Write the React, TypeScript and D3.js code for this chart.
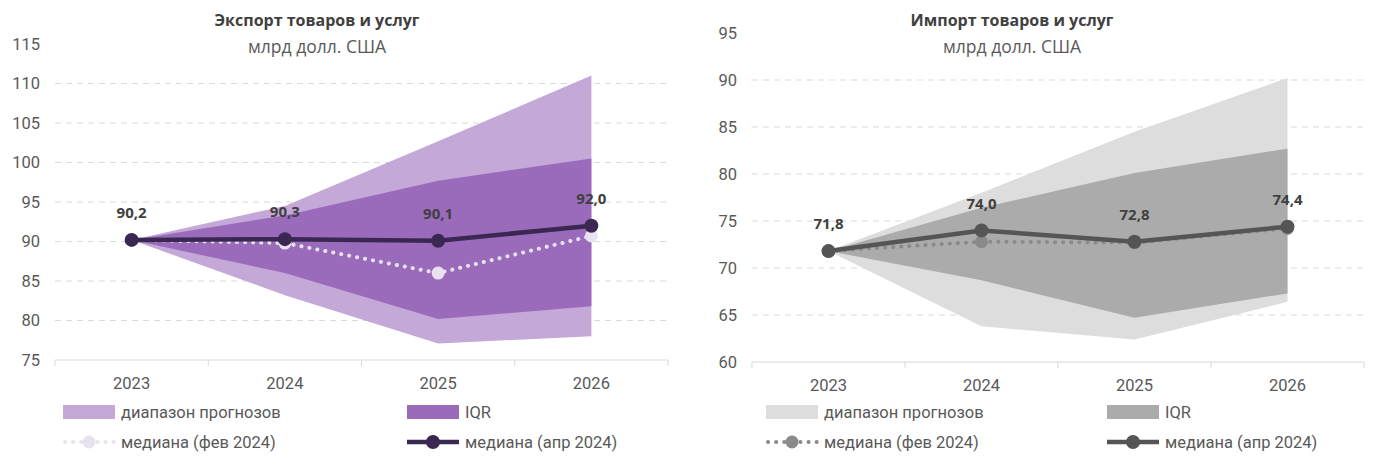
import React from "react";
import * as d3 from "d3";

const years = ["2023", "2024", "2025", "2026"];

// Export (left)
const expRangeLow = [90.2, 83.2, 77.1, 78.0];
const expRangeHigh = [90.2, 94.5, 102.7, 111.0];
const expIqrLow = [90.2, 86.0, 80.2, 81.8];
const expIqrHigh = [90.2, 93.3, 97.7, 100.5];
const expMedApr = [90.2, 90.3, 90.1, 92.0];
const expMedFeb = [90.2, 89.8, 86.0, 90.7];
const expTicks = [75, 80, 85, 90, 95, 100, 105, 110, 115];

// Import (right)
const impRangeLow = [71.8, 63.8, 62.4, 66.4];
const impRangeHigh = [71.8, 78.0, 84.5, 90.2];
const impIqrLow = [71.8, 68.7, 64.7, 67.3];
const impIqrHigh = [71.8, 76.4, 80.1, 82.7];
const impMedApr = [71.8, 74.0, 72.8, 74.4];
const impMedFeb = [71.8, 72.8, 72.7, 74.2];
const impTicks = [60, 65, 70, 75, 80, 85, 90, 95];

const legendLabels = ["диапазон прогнозов", "IQR", "медиана (фев 2024)", "медиана (апр 2024)"];

const FONT = "Roboto, 'Liberation Sans', sans-serif";
const TITLE_FONT = "'Open Sans', 'Noto Sans', sans-serif";

type PanelProps = {
  title: string;
  subtitle: string;
  x0: number;
  x1: number;
  yBottom: number;
  yTop: number;
  ticks: number[];
  rangeLow: number[];
  rangeHigh: number[];
  iqrLow: number[];
  iqrHigh: number[];
  medApr: number[];
  medFeb: number[];
  cRange: string;
  cIqr: string;
  cApr: string;
  cFeb: string;
  titleX: number;
  legendX: number;
  legendX2: number;
};

function fmt(v: number) {
  return v.toFixed(1).replace(".", ",");
}

function Panel(p: PanelProps) {
  const x = d3.scaleBand<string>().domain(years).range([p.x0, p.x1]);
  const cx = (i: number) => (x(years[i]) as number) + x.bandwidth() / 2;
  const y = d3
    .scaleLinear()
    .domain([p.ticks[0], p.ticks[p.ticks.length - 1]])
    .range([p.yBottom, p.yTop]);
  const idx = years.map((_, i) => i);
  const area = (lo: number[], hi: number[]) =>
    d3
      .area<number>()
      .x((i) => cx(i))
      .y0((i) => y(lo[i]))
      .y1((i) => y(hi[i]))(idx) as string;
  const line = (v: number[]) =>
    d3
      .line<number>()
      .x((i) => cx(i))
      .y((i) => y(v[i]))(idx) as string;
  const boundaries = [...years.map((yr) => x(yr) as number), p.x1];
  const ly1 = 412;
  const ly2 = 442;
  return (
    <g>
      {p.ticks.slice(1, -1).map((t) => (
        <line
          key={t}
          x1={p.x0}
          x2={p.x1}
          y1={y(t)}
          y2={y(t)}
          stroke="#d9d9d9"
          strokeWidth={1}
          strokeDasharray="6,5"
        />
      ))}
      {p.ticks.map((t) => (
        <text
          key={t}
          x={p.x0 - 15}
          y={y(t)}
          dy="0.35em"
          textAnchor="end"
          fontFamily={FONT}
          fontSize={16.5}
          fill="#595959"
        >
          {t}
        </text>
      ))}
      <path d={area(p.rangeLow, p.rangeHigh)} fill={p.cRange} />
      <path d={area(p.iqrLow, p.iqrHigh)} fill={p.cIqr} />
      <line x1={p.x0} x2={p.x1} y1={p.yBottom} y2={p.yBottom} stroke="#d9d9d9" strokeWidth={1} />
      {boundaries.map((b, i) => (
        <line key={i} x1={b} x2={b} y1={p.yBottom} y2={p.yBottom + 6} stroke="#d9d9d9" />
      ))}
      {years.map((yr, i) => (
        <text
          key={yr}
          x={cx(i)}
          y={p.yBottom + 23}
          dy="0.35em"
          textAnchor="middle"
          fontFamily={FONT}
          fontSize={16.5}
          fill="#595959"
        >
          {yr}
        </text>
      ))}
      <path
        d={line(p.medFeb)}
        fill="none"
        stroke={p.cFeb}
        strokeWidth={4}
        strokeDasharray="0.1,8"
        strokeLinecap="round"
      />
      {p.medFeb.map((v, i) => (
        <circle key={i} cx={cx(i)} cy={y(v)} r={6.5} fill={p.cFeb} />
      ))}
      <path d={line(p.medApr)} fill="none" stroke={p.cApr} strokeWidth={4.5} />
      {p.medApr.map((v, i) => (
        <circle key={i} cx={cx(i)} cy={y(v)} r={7} fill={p.cApr} />
      ))}
      {p.medApr.map((v, i) => (
        <text
          key={i}
          x={cx(i)}
          y={y(v) - 27}
          dy="0.35em"
          textAnchor="middle"
          fontFamily={TITLE_FONT}
          fontWeight={700}
          fontSize={15}
          fill="#404040"
        >
          {fmt(v)}
        </text>
      ))}
      <text
        x={p.titleX}
        y={20}
        dy="0.35em"
        textAnchor="middle"
        fontFamily={TITLE_FONT}
        fontWeight={700}
        fontSize={16}
        fill="#404040"
      >
        {p.title}
      </text>
      <text
        x={p.titleX}
        y={47}
        dy="0.35em"
        textAnchor="middle"
        fontFamily={TITLE_FONT}
        fontSize={17.5}
        fill="#595959"
      >
        {p.subtitle}
      </text>
      <rect x={p.legendX} y={ly1 - 7} width={52} height={14} fill={p.cRange} />
      <text x={p.legendX + 58} y={ly1} dy="0.35em" fontFamily={FONT} fontSize={16.5} fill="#595959">
        {legendLabels[0]}
      </text>
      <rect x={p.legendX2} y={ly1 - 7} width={52} height={14} fill={p.cIqr} />
      <text x={p.legendX2 + 58} y={ly1} dy="0.35em" fontFamily={FONT} fontSize={16.5} fill="#595959">
        {legendLabels[1]}
      </text>
      <line
        x1={p.legendX + 2}
        x2={p.legendX + 52}
        y1={ly2}
        y2={ly2}
        stroke={p.cFeb}
        strokeWidth={4}
        strokeDasharray="0.1,8"
        strokeLinecap="round"
      />
      <circle cx={p.legendX + 26} cy={ly2} r={6.5} fill={p.cFeb} />
      <text x={p.legendX + 58} y={ly2} dy="0.35em" fontFamily={FONT} fontSize={16.5} fill="#595959">
        {legendLabels[2]}
      </text>
      <line x1={p.legendX2} x2={p.legendX2 + 52} y1={ly2} y2={ly2} stroke={p.cApr} strokeWidth={4.5} />
      <circle cx={p.legendX2 + 26} cy={ly2} r={7} fill={p.cApr} />
      <text x={p.legendX2 + 58} y={ly2} dy="0.35em" fontFamily={FONT} fontSize={16.5} fill="#595959">
        {legendLabels[3]}
      </text>
    </g>
  );
}

export default function App() {
  return (
    <svg
      width={1382}
      height={473}
      style={{ position: "absolute", left: 0, top: 0, background: "#ffffff" }}
    >
      <rect width={1382} height={473} fill="#ffffff" />
      <Panel
        title="Экспорт товаров и услуг"
        subtitle="млрд долл. США"
        x0={55}
        x1={668}
        yBottom={360}
        yTop={44}
        ticks={expTicks}
        rangeLow={expRangeLow}
        rangeHigh={expRangeHigh}
        iqrLow={expIqrLow}
        iqrHigh={expIqrHigh}
        medApr={expMedApr}
        medFeb={expMedFeb}
        cRange="#c4a8d8"
        cIqr="#9b6bbb"
        cApr="#3b2852"
        cFeb="#e8e2f0"
        titleX={317}
        legendX={63}
        legendX2={407}
      />
      <Panel
        title="Импорт товаров и услуг"
        subtitle="млрд долл. США"
        x0={752}
        x1={1364}
        yBottom={362}
        yTop={33}
        ticks={impTicks}
        rangeLow={impRangeLow}
        rangeHigh={impRangeHigh}
        iqrLow={impIqrLow}
        iqrHigh={impIqrHigh}
        medApr={impMedApr}
        medFeb={impMedFeb}
        cRange="#dddddd"
        cIqr="#ababab"
        cApr="#555555"
        cFeb="#8a8a8a"
        titleX={1012}
        legendX={766}
        legendX2={1107}
      />
    </svg>
  );
}
